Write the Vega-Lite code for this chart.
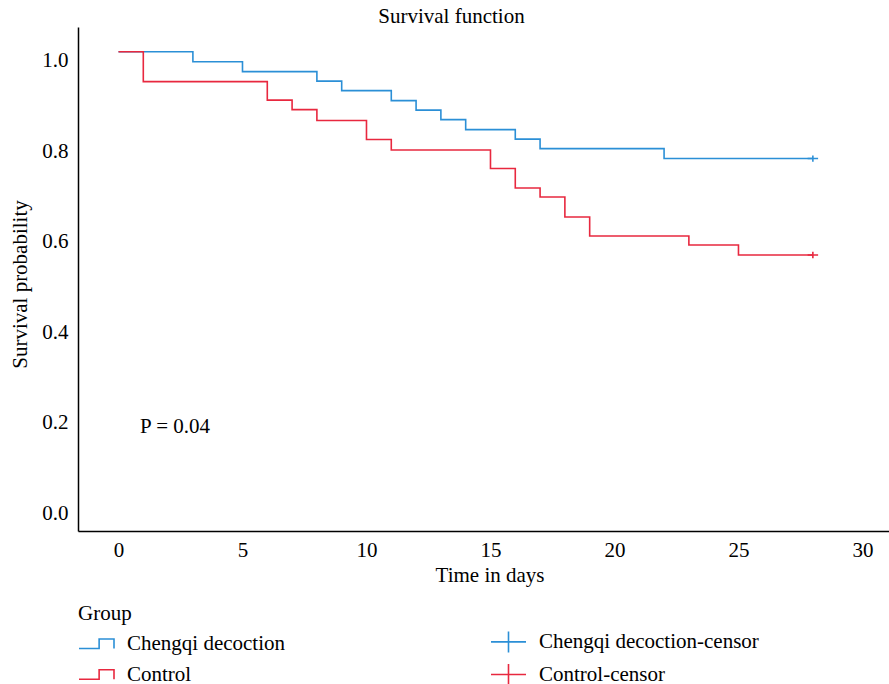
{
  "$schema": "https://vega.github.io/schema/vega-lite/v6.json",
  "width": 811,
  "height": 504,
  "autosize": "none",
  "padding": {"left": 78, "top": 27, "right": 0, "bottom": 153},
  "background": "white",
  "title": {"text": "Survival function", "font": "Liberation Serif", "fontSize": 21, "fontWeight": "normal", "color": "black", "anchor": "middle", "dx": -32, "dy": 20, "offset": 3, "baseline": "alphabetic"},
  "config": {
    "view": {"stroke": null},
    "font": "Liberation Serif",
    "axis": {"domainColor": "black", "domainWidth": 1.5, "ticks": false, "grid": false, "labelFont": "Liberation Serif", "labelFontSize": 21, "labelColor": "black", "titleFont": "Liberation Serif", "titleFontSize": 21, "titleFontWeight": "normal", "titleColor": "black"},
    "legend": {"labelFont": "Liberation Serif", "labelFontSize": 21, "labelColor": "black", "titleFont": "Liberation Serif", "titleFontSize": 21, "titleFontWeight": "normal", "titleColor": "black"}
  },
  "datasets": {
    "curves": [
      {"group": "Chengqi decoction", "time": 0, "surv": 1.0},
      {"group": "Chengqi decoction", "time": 3, "surv": 0.978},
      {"group": "Chengqi decoction", "time": 5, "surv": 0.956},
      {"group": "Chengqi decoction", "time": 8, "surv": 0.935},
      {"group": "Chengqi decoction", "time": 9, "surv": 0.914},
      {"group": "Chengqi decoction", "time": 11, "surv": 0.892},
      {"group": "Chengqi decoction", "time": 12, "surv": 0.871},
      {"group": "Chengqi decoction", "time": 13, "surv": 0.85},
      {"group": "Chengqi decoction", "time": 14, "surv": 0.828},
      {"group": "Chengqi decoction", "time": 16, "surv": 0.807},
      {"group": "Chengqi decoction", "time": 17, "surv": 0.786},
      {"group": "Chengqi decoction", "time": 22, "surv": 0.764},
      {"group": "Chengqi decoction", "time": 28, "surv": 0.764},
      {"group": "Control", "time": 0, "surv": 1.0},
      {"group": "Control", "time": 1, "surv": 0.934},
      {"group": "Control", "time": 6, "surv": 0.893},
      {"group": "Control", "time": 7, "surv": 0.872},
      {"group": "Control", "time": 8, "surv": 0.848},
      {"group": "Control", "time": 10, "surv": 0.806},
      {"group": "Control", "time": 11, "surv": 0.783},
      {"group": "Control", "time": 15, "surv": 0.742},
      {"group": "Control", "time": 16, "surv": 0.699},
      {"group": "Control", "time": 17, "surv": 0.679},
      {"group": "Control", "time": 18, "surv": 0.635},
      {"group": "Control", "time": 19, "surv": 0.593},
      {"group": "Control", "time": 23, "surv": 0.573},
      {"group": "Control", "time": 25, "surv": 0.551},
      {"group": "Control", "time": 28, "surv": 0.551}
    ],
    "censors": [
      {"group": "Chengqi decoction-censor", "time": 28, "surv": 0.764},
      {"group": "Control-censor", "time": 28, "surv": 0.551}
    ],
    "notes": [
      {"label": "P = 0.04", "time": 0.87, "surv": 0.157}
    ]
  },
  "encoding": {
    "x": {"field": "time", "type": "quantitative", "scale": {"domain": [-1.633, 31.07], "nice": false, "zero": false},
      "axis": {"values": [0, 5, 10, 15, 20, 25, 30], "labelPadding": 8, "title": "Time in days", "titleX": 411.5, "titleY": 50.5, "titleBaseline": "alphabetic", "titleAnchor": null, "titleAlign": "center"}},
    "y": {"field": "surv", "type": "quantitative", "scale": {"domain": [-0.0586, 1.0546], "nice": false, "zero": false},
      "axis": {"values": [0, 0.2, 0.4, 0.6, 0.8, 1.0], "format": ".1f", "labelPadding": 10, "labelOffset": 9, "title": "Survival probability", "titleX": -52, "titleY": 257, "titleAngle": -90, "titleBaseline": "alphabetic", "titleAlign": "center", "titleAnchor": null}}
  },
  "layer": [
    {
      "data": {"name": "curves"},
      "mark": {"type": "line", "interpolate": "step-after", "strokeWidth": 1.6},
      "encoding": {
        "color": {"field": "group", "type": "nominal",
          "scale": {"domain": ["Chengqi decoction", "Control", "Chengqi decoction-censor", "Control-censor"], "range": ["#2b8fd6", "#e8283f", "#2b8fd6", "#e8283f"]},
          "legend": {"title": "Group", "orient": "none", "legendX": 0, "legendY": 576, "columns": 2, "columnPadding": 201, "rowPadding": -3, "symbolSize": 1225, "symbolStrokeWidth": 1.6, "symbolFillColor": "transparent", "labelOffset": 12, "titlePadding": -1, "labelLimit": 400}}
      }
    },
    {
      "data": {"name": "censors"},
      "mark": {"type": "point", "filled": false, "size": 110, "strokeWidth": 1.6, "opacity": 1},
      "encoding": {
        "color": {"field": "group", "type": "nominal"},
        "shape": {"field": "group", "type": "nominal",
          "scale": {"domain": ["Chengqi decoction", "Control", "Chengqi decoction-censor", "Control-censor"], "range": ["M-1,0.27L0.15,0.27L0.15,-0.27L1,-0.27L1,0.27", "M-1,0.27L0.15,0.27L0.15,-0.27L1,-0.27L1,0.27", "M-1,0L1,0M0,-0.6L0,0.6", "M-1,0L1,0M0,-0.6L0,0.6"]},
          "legend": {"title": "Group"}}
      }
    },
    {
      "data": {"name": "notes"},
      "mark": {"type": "text", "align": "left", "baseline": "alphabetic", "font": "Liberation Serif", "fontSize": 21, "color": "black"},
      "encoding": {"text": {"field": "label"}}
    }
  ]
}
